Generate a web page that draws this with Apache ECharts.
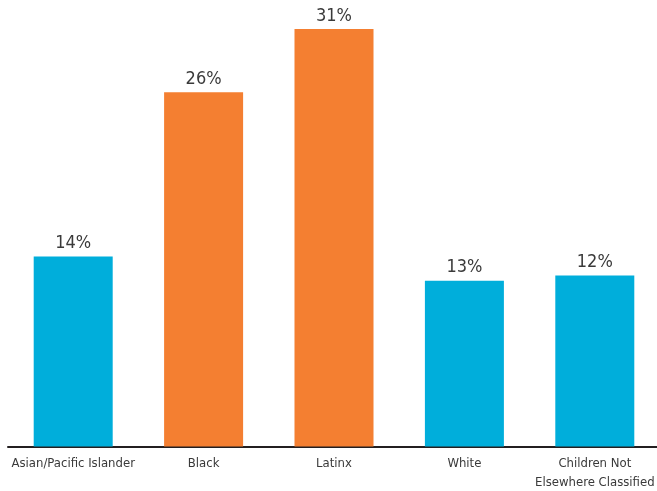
<!DOCTYPE html>
<html>
<head>
<meta charset="utf-8">
<script src="https://cdn.jsdelivr.net/npm/echarts@6/dist/echarts.min.js"></script>
<style>html,body{margin:0;padding:0;background:#fff}#c{width:657px;height:491px}</style>
</head>
<body>
<div id="c"></div>
<script>
const categories = ["Asian/Pacific Islander", "Black", "Latinx", "White", "Children Not\nElsewhere Classified"];
const values = [14.1, 26.3, 31.0, 12.3, 12.7];
const valueLabels = ["14%", "26%", "31%", "13%", "12%"];
const barColors = ["#00AEDB", "#F47F31", "#F47F31", "#00AEDB", "#00AEDB"];

const FONT = "'DejaVu Sans Condensed', 'Liberation Sans Narrow', sans-serif";
const chart = echarts.init(document.getElementById('c'), null, {renderer: 'canvas'});
chart.setOption({
  animation: false,
  grid: {left: 8, top: 2, width: 652, bottom: 44.5, containLabel: false, outerBoundsMode: 'none'},
  xAxis: {
    type: 'category',
    data: categories,
    axisLine: {lineStyle: {color: '#231f20', width: 2}},
    axisTick: {show: false},
    axisLabel: {color: '#3a3a3a', fontSize: 13, fontFamily: FONT, margin: 8, lineHeight: 19, interval: 0}
  },
  yAxis: {
    type: 'value', min: 0, max: 33,
    show: false, splitLine: {show: false}
  },
  series: [{
    type: 'bar',
    barWidth: 79,
    data: values.map((v, i) => ({value: v, itemStyle: {color: barColors[i]}})),
    label: {
      show: true, position: 'top', distance: 4,
      color: '#3a3a3a', fontSize: 18, fontFamily: FONT,
      formatter: p => valueLabels[p.dataIndex]
    }
  }]
});
</script>
</body>
</html>
